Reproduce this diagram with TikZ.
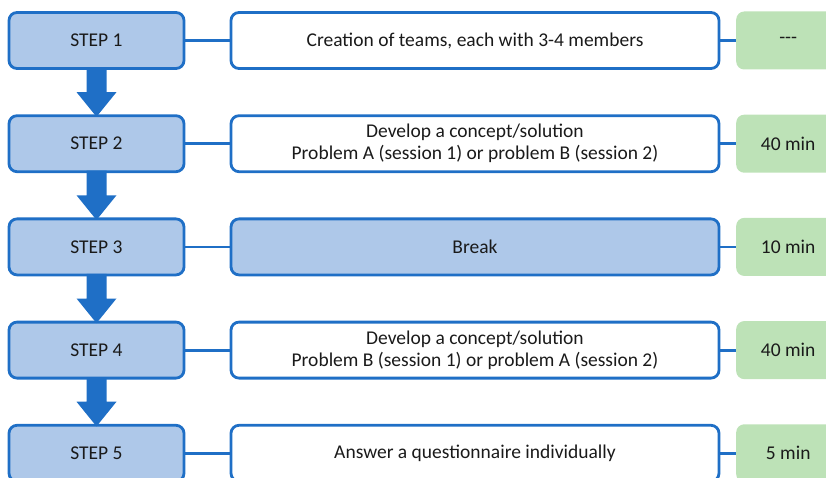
\documentclass[tikz,border=0pt]{standalone}
\usepackage{fontspec}
\usetikzlibrary{calc}
\setmainfont{Carlito}
\definecolor{bordblue}{HTML}{1F6FC6}
\definecolor{stepfill}{HTML}{AEC8E9}
\definecolor{timefill}{HTML}{BDE2B7}
\definecolor{txtcol}{HTML}{1A1A1A}
\begin{document}
\begin{tikzpicture}[x=1pt,y=-1pt,
  stepbox/.style={draw=bordblue,line width=2.8pt,fill=stepfill,rounded corners=8pt,minimum width=175pt,minimum height=56pt,inner sep=0pt,font=\fontsize{19.5}{22}\selectfont,text=txtcol},
  descbox/.style={draw=bordblue,line width=2.8pt,fill=white,rounded corners=8pt,minimum width=488pt,minimum height=56pt,inner sep=0pt,align=center,font=\fontsize{19.5}{22}\selectfont,text=txtcol},
  breakbox/.style={descbox,fill=stepfill},
  timebox/.style={fill=timefill,rounded corners=8pt,minimum width=104pt,minimum height=58pt,inner sep=0pt,anchor=west,font=\fontsize{19.5}{22}\selectfont,text=txtcol},
  link/.style={draw=bordblue,line width=2.8pt},
  downarrow/.style={fill=bordblue,draw=none}
]
\useasboundingbox (0,0) rectangle (826,478);
\clip (0,0) rectangle (826,478);
\foreach \i/\y in {1/40.5,2/143.7,3/246.9,4/350.1,5/453.3}{
  \node[stepbox] (s\i) at (96.5,\y) {STEP \i};
}
\node[descbox] (d1) at (475,40.5) {Creation of teams, each with 3-4 members};
\node[descbox] (d2) at (475,143.7) {Develop a concept/solution\\Problem A (session 1) or problem B (session 2)};
\node[breakbox] (d3) at (475,246.9) {Break};
\node[descbox] (d4) at (475,350.1) {Develop a concept/solution\\Problem B (session 1) or problem A (session 2)};
\node[descbox] (d5) at (475,453.3) {Answer a questionnaire individually};
\node[timebox] (t1) at (736,40.5) {-{}-{}-};
\node[timebox] (t2) at (736,143.7) {40 min};
\node[timebox] (t3) at (736,246.9) {10 min};
\node[timebox] (t4) at (736,350.1) {40 min};
\node[timebox] (t5) at (736,453.3) {5 min};
\foreach \i in {1,...,5}{
  \draw[link] (s\i.east) -- (d\i.west);
  \draw[link] (d\i.east) -- (t\i.west);
}
\foreach \i/\j in {1/2,2/3,3/4,4/5}{
  \coordinate (a\i) at ([yshift=2.5pt]s\i.south);
  \coordinate (b\i) at ([yshift=-2.5pt]s\j.north);
  \coordinate (m\i) at ($(a\i)!0.5!(b\i)$);
  \fill[downarrow] ([xshift=-10pt]a\i) -- ([xshift=10pt]a\i)
    -- ([xshift=10pt]m\i) -- ([xshift=20pt]m\i)
    -- (b\i) -- ([xshift=-20pt]m\i) -- ([xshift=-10pt]m\i) -- cycle;
}
\end{tikzpicture}
\end{document}
